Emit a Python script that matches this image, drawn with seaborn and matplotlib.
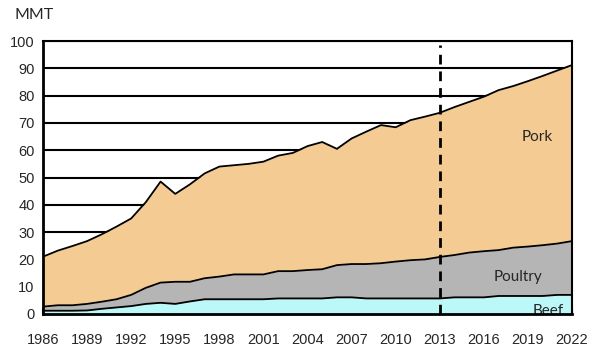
import numpy as np
import pandas as pd
import matplotlib
matplotlib.use("Agg")
import matplotlib.pyplot as plt
import seaborn as sns

years = list(range(1986, 2023))
beef = [1.2, 1.2, 1.2, 1.3, 1.9, 2.4, 2.9, 3.7, 4.1, 3.7, 4.6, 5.4, 5.4, 5.4, 5.4, 5.4,
        5.7, 5.7, 5.7, 5.7, 6.1, 6.1, 5.7, 5.7, 5.7, 5.7, 5.7, 5.7, 6.1, 6.1, 6.1, 6.6,
        6.6, 6.6, 6.6, 7.0, 7.0]
poultry_top = [2.7, 3.2, 3.2, 3.7, 4.5, 5.4, 7.0, 9.6, 11.5, 11.8, 11.8, 13.1, 13.7, 14.5,
               14.5, 14.5, 15.7, 15.7, 16.1, 16.4, 17.9, 18.3, 18.3, 18.6, 19.2, 19.7, 20.0,
               20.9, 21.6, 22.5, 23.0, 23.4, 24.3, 24.7, 25.2, 25.8, 26.7]
total = [21.0, 23.2, 24.9, 26.7, 29.2, 32.0, 35.0, 41.0, 48.5, 44.0, 47.5, 51.5, 54.0,
         54.5, 55.0, 55.8, 58.0, 59.0, 61.5, 63.0, 60.5, 64.3, 66.8, 69.2, 68.4, 71.0,
         72.3, 73.7, 75.8, 77.7, 79.6, 82.0, 83.5, 85.3, 87.2, 89.2, 91.2]
poultry = [p - b for p, b in zip(poultry_top, beef)]
pork = [t - p for t, p in zip(total, poultry_top)]
xticks = list(range(1986, 2023, 3))
yticks = list(range(0, 101, 10))

df = pd.DataFrame({"year": years, "beef": beef, "poultry_top": poultry_top, "total": total})

sns.set_theme(style="white")
plt.rcParams['font.family'] = ['Liberation Sans', 'DejaVu Sans']

fig = plt.figure(figsize=(6, 3.55), dpi=100)
ax = fig.add_axes([0.0717, 0.1155, 0.8817, 0.769])

for y in yticks[1:]:
    ax.axhline(y, color="black", lw=1.5, zorder=0)

ax.fill_between(df["year"], 0, df["beef"], color="#BDF8F8", lw=0, zorder=1)
ax.fill_between(df["year"], df["beef"], df["poultry_top"], color="#B5B5B5", lw=0, zorder=1)
ax.fill_between(df["year"], df["poultry_top"], df["total"], color="#F5CB94", lw=0, zorder=1)

for col in ["beef", "poultry_top", "total"]:
    sns.lineplot(data=df, x="year", y=col, ax=ax, color="black", lw=1.3, zorder=2)

ax.plot([2013, 2013], [0, 98.5], color="black", lw=2, ls=(0, (3.5, 2.5)), zorder=3)

ax.set_xlim(1986, 2022)
ax.set_ylim(0, 100)
ax.set_xticks(xticks)
ax.set_xticklabels([str(x) for x in xticks], fontsize=10.5)
ax.set_yticks(yticks)
ax.set_yticklabels([str(y) for y in yticks], fontsize=10.5)
ax.tick_params(axis="x", direction="in", length=4, width=1.5, color="black", pad=14, bottom=True)
ax.tick_params(axis="y", length=0, pad=6)
ax.set_xlabel("")
ax.set_ylabel("")
for s in ["left", "bottom"]:
    ax.spines[s].set_linewidth(2)
for s in ["top", "right"]:
    ax.spines[s].set_linewidth(1.5)
for s in ax.spines.values():
    s.set_color("black")
    s.set_zorder(4)

lab_font = ['Lato', 'DejaVu Sans']
fig.text(0.025, 0.958, "MMT", fontsize=11.5, family=lab_font, ha="left", va="center")
ax.text(2019.6, 65, "Pork", fontsize=11, family=lab_font, ha="center", va="center", zorder=5)
ax.text(2018.3, 13.5, "Poultry", fontsize=11, family=lab_font, ha="center", va="center", zorder=5)
ax.text(2020.4, -0.3, "Beef", fontsize=11, family=lab_font, ha="center", va="baseline", zorder=3)

fig.savefig("out.png", dpi=100)
